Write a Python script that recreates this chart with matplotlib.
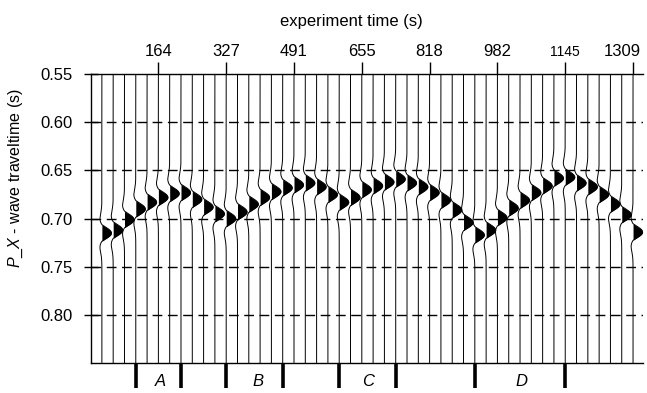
import matplotlib
matplotlib.use('Agg')
import matplotlib.pyplot as plt
import matplotlib.transforms as mtransforms
import numpy as np

plt.rcParams['font.family'] = ['Liberation Sans', 'DejaVu Sans']
plt.rcParams['mathtext.fontset'] = 'custom'
plt.rcParams['mathtext.it'] = 'Liberation Sans:italic'
plt.rcParams['mathtext.rm'] = 'Liberation Sans'

# experiment time of each trace (s), one trace every 1309/48 s
trace_dt = 1309.0 / 48
trace_index = list(range(1, 49))

# picked P_X arrival (peak of the filled lobe) for each trace, s
arrival = [0.715, 0.712, 0.701, 0.690, 0.683, 0.678, 0.674, 0.673,
           0.680, 0.688, 0.695, 0.700, 0.693, 0.685, 0.678, 0.672,
           0.668, 0.665, 0.663, 0.667, 0.675, 0.683, 0.678, 0.670,
           0.666, 0.662, 0.659, 0.663, 0.667, 0.673, 0.681, 0.691,
           0.704, 0.717, 0.712, 0.699, 0.689, 0.681, 0.673, 0.666,
           0.658, 0.657, 0.663, 0.667, 0.675, 0.685, 0.696, 0.714]

top_ticks = [164, 327, 491, 655, 818, 982, 1145, 1309]
top_tick_traces = [6, 12, 18, 24, 30, 36, 42, 48]
y_ticks = [0.55, 0.60, 0.65, 0.70, 0.75, 0.80]

# segment marks under the section (trace numbers) and their labels
seg_marks = [4, 8, 12, 17, 22, 27, 34, 42]
seg_labels = ['A', 'B', 'C', 'D']
seg_label_pos = [168, 404, 669, 1041]

fig = plt.figure(figsize=(6.47, 3.93), dpi=100)
ax = fig.add_axes([0.140, 0.0763, 0.8538, 0.7354])

t = np.linspace(0.55, 0.85, 1500)
f0 = 26.0
amp = 23.0
for k, t0 in zip(trace_index, arrival):
    x0 = k * trace_dt
    a = (np.pi * f0 * (t - t0)) ** 2
    w = (1 - 2 * a) * np.exp(-a)
    w = amp * np.where(w > 0, w, 0.45 * w)
    ax.plot(x0 + w, t, color='black', lw=0.7)
    ax.fill_betweenx(t, x0, x0 + w, where=w > 0, color='black', lw=0)

for yv in y_ticks[1:]:
    ax.axhline(yv, color='black', lw=1.0, dashes=(7, 4))

ax.set_ylim(0.85, 0.55)
ax.set_xlim(0, 1333)
ax.spines['right'].set_visible(False)
for s in ['top', 'left', 'bottom']:
    ax.spines[s].set_linewidth(1.0)

ax.set_yticks(y_ticks)
ax.set_yticklabels(['%.2f' % v for v in y_ticks], fontsize=12)
ax.tick_params(axis='y', direction='inout', length=10, width=1, pad=8)

ax.xaxis.tick_top()
ax.set_xticks([k * trace_dt for k in top_tick_traces])
ax.set_xticklabels([str(v) for v in top_ticks], fontsize=12)
ax.tick_params(axis='x', direction='out', length=9, width=1, pad=2)
xl = ax.get_xticklabels()
xl[6].set_fontsize(10)
xl[7].set_transform(xl[7].get_transform() +
                    mtransforms.ScaledTranslation(-8 / 72, 0, fig.dpi_scale_trans))

ax.xaxis.set_label_position('top')
ax.set_xlabel('experiment time (s)', fontsize=12)
ax.xaxis.set_label_coords(0.473, 1.165)
ax.set_ylabel(r'$\mathit{P\_X}$ - wave traveltime (s)', fontsize=11.5)
ax.yaxis.set_label_coords(-0.118, 0.64)

trans = mtransforms.blended_transform_factory(ax.transData, ax.transAxes)
for k in seg_marks:
    ax.plot([k * trace_dt, k * trace_dt], [0.0, -0.085], color='black',
            lw=2.6, transform=trans, clip_on=False, solid_capstyle='butt')
for lab, xp in zip(seg_labels, seg_label_pos):
    ax.text(xp, -0.063, lab, transform=trans, fontsize=12, style='italic',
            ha='center', va='center')

fig.savefig('out.png', dpi=100)
